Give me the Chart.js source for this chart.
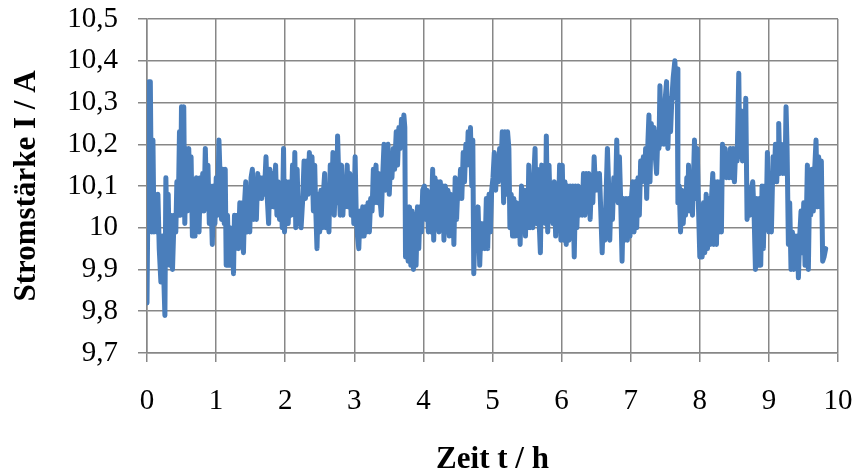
<!DOCTYPE html>
<html>
<head>
<meta charset="utf-8">
<title>Stromstärke</title>
<script src="https://cdn.jsdelivr.net/npm/chart.js@4.4.1/dist/chart.umd.min.js"></script>
<style>
  html, body { margin: 0; padding: 0; background: #ffffff; }
  canvas { display: block; }
</style>
</head>
<body>
<canvas id="chart" width="859" height="474"></canvas>
<script>
// Messreihe: Zeit in Stunden und Stromstärke in Ampere
const timeH = [
  0.000, 0.029, 0.048, 0.067, 0.086, 0.101, 0.120, 0.139, 0.158, 0.177,
  0.201, 0.225, 0.259, 0.273, 0.293, 0.307, 0.326, 0.345, 0.369, 0.393,
  0.417, 0.432, 0.451, 0.470, 0.484, 0.499, 0.518, 0.532, 0.547, 0.566,
  0.585, 0.604, 0.623, 0.638, 0.657, 0.676, 0.695, 0.715, 0.734, 0.753,
  0.772, 0.791, 0.806, 0.825, 0.844, 0.863, 0.882, 0.902, 0.921, 0.945,
  0.964, 0.983, 1.002, 1.022, 1.041, 1.060, 1.079, 1.098, 1.118, 1.132,
  1.146, 1.165, 1.185, 1.204, 1.223, 1.237, 1.252, 1.266, 1.285, 1.305,
  1.324, 1.343, 1.362, 1.381, 1.396, 1.415, 1.429, 1.448, 1.468, 1.487,
  1.506, 1.525, 1.544, 1.564, 1.583, 1.602, 1.621, 1.640, 1.659, 1.679,
  1.698, 1.722, 1.741, 1.760, 1.779, 1.799, 1.818, 1.837, 1.861, 1.880,
  1.899, 1.918, 1.938, 1.957, 1.976, 1.990,
  2.019, 2.043, 2.067, 2.086, 2.106, 2.125, 2.139, 2.153, 2.173, 2.192,
  2.211, 2.230, 2.254, 2.273, 2.293, 2.312, 2.331, 2.350, 2.369, 2.388,
  2.408, 2.427, 2.441, 2.460, 2.480, 2.499, 2.518, 2.537, 2.556, 2.571,
  2.590, 2.609, 2.633, 2.652, 2.671, 2.691, 2.710, 2.729, 2.748, 2.758,
  2.777, 2.796, 2.815, 2.835, 2.854, 2.873, 2.897, 2.916, 2.935, 2.954,
  2.974, 2.993, 3.012, 3.027, 3.046, 3.065, 3.084, 3.103, 3.122, 3.142,
  3.161, 3.180, 3.199, 3.218, 3.237, 3.257, 3.276, 3.295, 3.314, 3.333,
  3.353, 3.372, 3.391, 3.410, 3.430, 3.449, 3.468, 3.487, 3.506, 3.525,
  3.545, 3.564, 3.583, 3.607, 3.626, 3.645, 3.664, 3.683, 3.703, 3.717,
  3.731, 3.741, 3.760, 3.779, 3.799, 3.818, 3.837, 3.856, 3.875, 3.894,
  3.914, 3.933, 3.952, 3.971, 3.990,
  4.014, 4.034, 4.053, 4.072, 4.091, 4.110, 4.134, 4.149, 4.168, 4.187,
  4.206, 4.225, 4.245, 4.264, 4.283, 4.297, 4.317, 4.336, 4.355, 4.374,
  4.393, 4.412, 4.427, 4.441, 4.460, 4.480, 4.499, 4.518, 4.537, 4.556,
  4.576, 4.595, 4.614, 4.633, 4.647, 4.667, 4.681, 4.700, 4.715, 4.729,
  4.748, 4.767, 4.791, 4.815, 4.835, 4.854, 4.873, 4.892, 4.911, 4.930,
  4.950, 4.969, 4.988, 5.007, 5.026, 5.046, 5.065, 5.084, 5.103, 5.122,
  5.141, 5.161, 5.180, 5.199, 5.218, 5.237, 5.252, 5.271, 5.290, 5.309,
  5.329, 5.348, 5.367, 5.386, 5.400, 5.420, 5.439, 5.458, 5.477, 5.496,
  5.511, 5.525, 5.544, 5.564, 5.583, 5.597, 5.616, 5.631, 5.650, 5.669,
  5.693, 5.712, 5.731, 5.751, 5.765, 5.779, 5.799, 5.818, 5.837, 5.856,
  5.875, 5.894, 5.914, 5.933, 5.952, 5.971, 5.990,
  6.010, 6.029, 6.048, 6.067, 6.087, 6.106, 6.125, 6.144, 6.163, 6.183,
  6.202, 6.221, 6.240, 6.260, 6.279, 6.298, 6.317, 6.337, 6.356, 6.375,
  6.394, 6.413, 6.433, 6.452, 6.471, 6.490, 6.510, 6.529, 6.548, 6.567,
  6.587, 6.606, 6.625, 6.644, 6.663, 6.683, 6.697, 6.716, 6.736, 6.755,
  6.779, 6.798, 6.817, 6.837, 6.856, 6.875, 6.894, 6.913, 6.933, 6.952,
  6.971, 6.990, 7.010, 7.029, 7.048, 7.067, 7.087, 7.106, 7.125, 7.144,
  7.163, 7.183, 7.202, 7.216, 7.231, 7.250, 7.264, 7.279, 7.298, 7.317,
  7.337, 7.356, 7.375, 7.394, 7.409, 7.423, 7.442, 7.462, 7.481, 7.500,
  7.519, 7.538, 7.558, 7.577, 7.596, 7.615, 7.639, 7.659, 7.673, 7.683,
  7.702, 7.721, 7.740, 7.760, 7.779, 7.794, 7.812, 7.827, 7.837, 7.856,
  7.875, 7.894, 7.923, 7.942, 7.962, 7.981, 8.000,
  8.014, 8.034, 8.053, 8.072, 8.092, 8.111, 8.130, 8.149, 8.169, 8.188,
  8.202, 8.222, 8.241, 8.260, 8.280, 8.299, 8.313, 8.328, 8.347, 8.366,
  8.386, 8.405, 8.424, 8.443, 8.463, 8.482, 8.501, 8.520, 8.540, 8.564,
  8.578, 8.598, 8.617, 8.636, 8.651, 8.665, 8.684, 8.704, 8.723, 8.742,
  8.766, 8.786, 8.805, 8.824, 8.843, 8.863, 8.882, 8.901, 8.920, 8.940,
  8.959, 8.978, 8.998, 9.017, 9.036, 9.060, 9.080, 9.094, 9.113, 9.133,
  9.142, 9.161, 9.181, 9.200, 9.219, 9.234, 9.248, 9.263, 9.282, 9.301,
  9.320, 9.340, 9.359, 9.378, 9.398, 9.412, 9.427, 9.446, 9.465, 9.484,
  9.504, 9.523, 9.537, 9.557, 9.571, 9.590, 9.605, 9.624, 9.643, 9.663,
  9.682, 9.701, 9.720, 9.740, 9.759, 9.778, 9.798, 9.822
];

const currentA = [
  9.82, 10.35, 10.35, 9.99, 10.21, 9.99, 10.08, 9.99, 10.08, 9.95,
  9.87, 9.98, 9.79, 10.12, 9.95, 10.08, 9.91, 10.03, 9.90, 10.03,
  9.99, 10.11, 10.03, 10.23, 10.03, 10.29, 10.07, 10.29, 10.01, 10.19,
  10.04, 10.19, 10.07, 10.17, 9.98, 10.11, 9.98, 10.12, 10.03, 9.99,
  10.12, 10.04, 10.13, 10.04, 10.19, 10.07, 10.15, 10.01, 10.10, 9.96,
  10.10, 10.01, 10.12, 10.03, 10.21, 10.11, 10.02, 10.14, 10.01, 10.14,
  9.91, 10.03, 9.91, 10.00, 9.91, 9.99, 9.89, 10.03, 9.95, 10.03,
  9.95, 10.06, 9.97, 10.06, 9.94, 10.07, 10.11, 9.99, 10.09, 9.99,
  10.12, 10.14, 10.02, 10.09, 10.02, 10.13, 10.07, 10.12, 10.07, 10.12,
  10.08, 10.17, 10.07, 10.01, 10.14, 10.05, 10.13, 10.05, 10.15, 10.03,
  10.11, 10.02, 10.09, 10.00, 10.19, 9.99,
  10.11, 10.01, 10.11, 10.03, 10.15, 10.04, 10.18, 10.00, 10.14, 10.01,
  10.07, 10.00, 10.07, 10.16, 10.07, 10.16, 10.08, 10.18, 10.09, 10.17,
  10.04, 10.15, 10.05, 9.95, 10.08, 9.99, 10.09, 10.00, 10.09, 10.13,
  10.00, 10.09, 9.99, 10.15, 10.04, 10.18, 10.03, 10.14, 10.06, 10.22,
  10.11, 10.03, 10.15, 10.03, 10.12, 10.05, 10.15, 10.05, 10.13, 10.03,
  10.11, 10.01, 10.17, 10.04, 9.98, 9.95, 10.04, 9.98, 10.05, 9.98,
  10.05, 9.99, 10.06, 9.99, 10.07, 10.04, 10.14, 10.06, 10.15, 10.06,
  10.13, 10.07, 10.03, 10.12, 10.20, 10.09, 10.19, 10.20, 10.08, 10.16,
  10.12, 10.19, 10.14, 10.23, 10.15, 10.24, 10.19, 10.26, 10.22, 10.27,
  10.24, 9.93, 10.05, 9.92, 10.05, 9.91, 10.04, 9.90, 10.03, 9.91,
  10.05, 9.95, 10.05, 9.99, 10.09,
  10.10, 10.02, 10.09, 9.99, 10.07, 9.99, 10.14, 9.97, 10.12, 10.04,
  10.11, 9.99, 10.11, 10.01, 10.10, 9.97, 10.10, 9.99, 10.09, 9.98,
  10.08, 10.01, 10.07, 9.96, 10.12, 10.02, 10.10, 10.07, 10.14, 10.07,
  10.18, 10.11, 10.20, 10.15, 10.23, 10.18, 10.24, 10.10, 10.21, 9.89,
  10.01, 9.96, 10.05, 9.91, 10.01, 9.95, 10.01, 9.95, 10.07, 9.95,
  10.08, 9.99, 10.09, 10.12, 10.18, 10.09, 10.17, 10.11, 10.19, 10.14,
  10.23, 10.06, 10.23, 10.08, 10.23, 10.19, 10.00, 10.08, 9.98, 10.07,
  9.98, 10.06, 9.99, 10.05, 9.96, 10.10, 10.00, 10.09, 9.98, 10.09,
  10.00, 10.15, 10.00, 10.11, 10.00, 10.12, 10.19, 10.01, 10.14, 10.04,
  9.94, 10.15, 10.04, 10.14, 10.01, 10.22, 9.99, 10.15, 10.03, 10.10,
  10.01, 10.11, 9.98, 10.09, 10.01, 10.15, 9.97,
  10.15, 9.97, 10.11, 9.96, 10.10, 9.97, 10.10, 9.99, 10.10, 9.93,
  10.10, 10.00, 10.10, 10.03, 10.09, 10.03, 10.13, 10.03, 10.13, 10.05,
  10.13, 10.02, 10.11, 10.06, 10.17, 10.09, 10.13, 10.09, 10.13, 10.04,
  9.94, 10.04, 9.97, 10.08, 10.19, 10.09, 9.97, 10.09, 10.02, 10.12,
  10.07, 10.21, 10.06, 10.17, 10.06, 9.92, 10.07, 9.97, 10.07, 9.97,
  10.07, 9.98, 10.07, 10.11, 9.99, 10.11, 10.00, 10.12, 10.03, 10.16,
  10.11, 10.17, 10.12, 10.19, 10.07, 10.21, 10.27, 10.11, 10.25, 10.17,
  10.24, 10.17, 10.13, 10.23, 10.19, 10.34, 10.20, 10.28, 10.20, 10.31,
  10.35, 10.19, 10.31, 10.23, 10.31, 10.36, 10.40, 10.31, 10.38, 10.06,
  10.10, 9.99, 10.09, 10.01, 10.07, 10.03, 10.12, 10.04, 10.15, 10.04,
  10.12, 10.03, 10.21, 10.07, 10.19, 10.05, 9.93,
  10.01, 9.93, 10.06, 9.94, 10.08, 9.95, 10.07, 9.96, 10.07, 10.13,
  9.96, 10.11, 9.96, 10.11, 9.99, 10.11, 9.99, 10.20, 10.16, 10.19,
  10.12, 10.16, 10.12, 10.19, 10.12, 10.19, 10.11, 10.19, 10.16, 10.37,
  10.17, 10.28, 10.16, 10.27, 10.17, 10.31, 10.02, 10.07, 10.03, 10.09,
  10.11, 10.03, 9.90, 10.07, 9.91, 10.07, 9.91, 10.10, 9.95, 10.10,
  10.00, 10.18, 9.99, 10.11, 9.99, 10.17, 10.12, 10.20, 10.11, 10.20,
  10.25, 10.13, 10.20, 10.13, 10.19, 10.13, 10.29, 10.19, 9.96, 10.06,
  9.90, 9.99, 9.90, 9.98, 9.91, 9.98, 9.88, 9.98, 10.04, 9.94,
  10.06, 9.91, 9.98, 10.15, 9.90, 10.11, 10.03, 10.14, 10.04, 10.14,
  10.21, 10.05, 10.17, 10.05, 10.16, 9.92, 9.93, 9.95
];

// Achsenbeschriftung (deutsche Dezimalschreibweise)
const xTickValues = [0, 1, 2, 3, 4, 5, 6, 7, 8, 9, 10];
const xTickLabels = ['0', '1', '2', '3', '4', '5', '6', '7', '8', '9', '10'];
const yTickValues = [9.7, 9.8, 9.9, 10.0, 10.1, 10.2, 10.3, 10.4, 10.5];
const yTickLabels = ['9,7', '9,8', '9,9', '10', '10,1', '10,2', '10,3', '10,4', '10,5'];

const points = timeH.map((t, i) => ({ x: t, y: currentA[i] }));

const gridColor = '#878787';
const serif = '"Liberation Serif", "Times New Roman", serif';

new Chart(document.getElementById('chart').getContext('2d'), {
  type: 'line',
  data: {
    datasets: [
      {
        data: points,
        borderColor: '#4a7ebb',
        borderWidth: 5,
        borderJoinStyle: 'round',
        borderCapStyle: 'round',
        pointRadius: 0,
        tension: 0,
        fill: false
      }
    ]
  },
  options: {
    responsive: false,
    animation: false,
    layout: { padding: { left: 0, top: 19, right: 21, bottom: 0 } },
    plugins: {
      legend: { display: false },
      tooltip: { enabled: false }
    },
    scales: {
      x: {
        type: 'linear',
        min: 0,
        max: 10,
        afterBuildTicks: (scale) => {
          scale.ticks = xTickValues.map(v => ({ value: v }));
        },
        afterFit: (scale) => {
          // feste Höhe, kein Zusatzrand für überstehende Beschriftungen
          scale.height = 121;
          scale.paddingLeft = 0;
          scale.paddingRight = 0;
        },
        grid: { color: gridColor, lineWidth: 1.5, tickLength: 9, drawTicks: true },
        border: { color: gridColor, width: 1.5 },
        ticks: {
          color: '#000',
          padding: 22,
          maxRotation: 0,
          autoSkip: false,
          font: { family: serif, size: 29 },
          callback: (value, index) => xTickLabels[index]
        },
        title: {
          display: true,
          text: 'Zeit t / h',
          color: '#000',
          font: { family: serif, size: 31, weight: 'bold', lineHeight: 1 },
          padding: { top: 0, bottom: -1 }
        }
      },
      y: {
        min: 9.7,
        max: 10.5,
        afterBuildTicks: (scale) => {
          scale.ticks = yTickValues.map(v => ({ value: v }));
        },
        afterFit: (scale) => {
          scale.width = 147;
          scale.paddingTop = 0;
          scale.paddingBottom = 0;
        },
        grid: { color: gridColor, lineWidth: 1.5, tickLength: 9, drawTicks: true },
        border: { color: gridColor, width: 1.5 },
        ticks: {
          color: '#000',
          padding: 20,
          autoSkip: false,
          font: { family: serif, size: 29 },
          callback: (value, index) => yTickLabels[index]
        },
        title: {
          display: true,
          text: 'Stromstärke I / A',
          color: '#000',
          font: { family: serif, size: 31, weight: 'bold', lineHeight: 1 },
          padding: { top: 11, bottom: 0 }
        }
      }
    }
  }
});
</script>
</body>
</html>
